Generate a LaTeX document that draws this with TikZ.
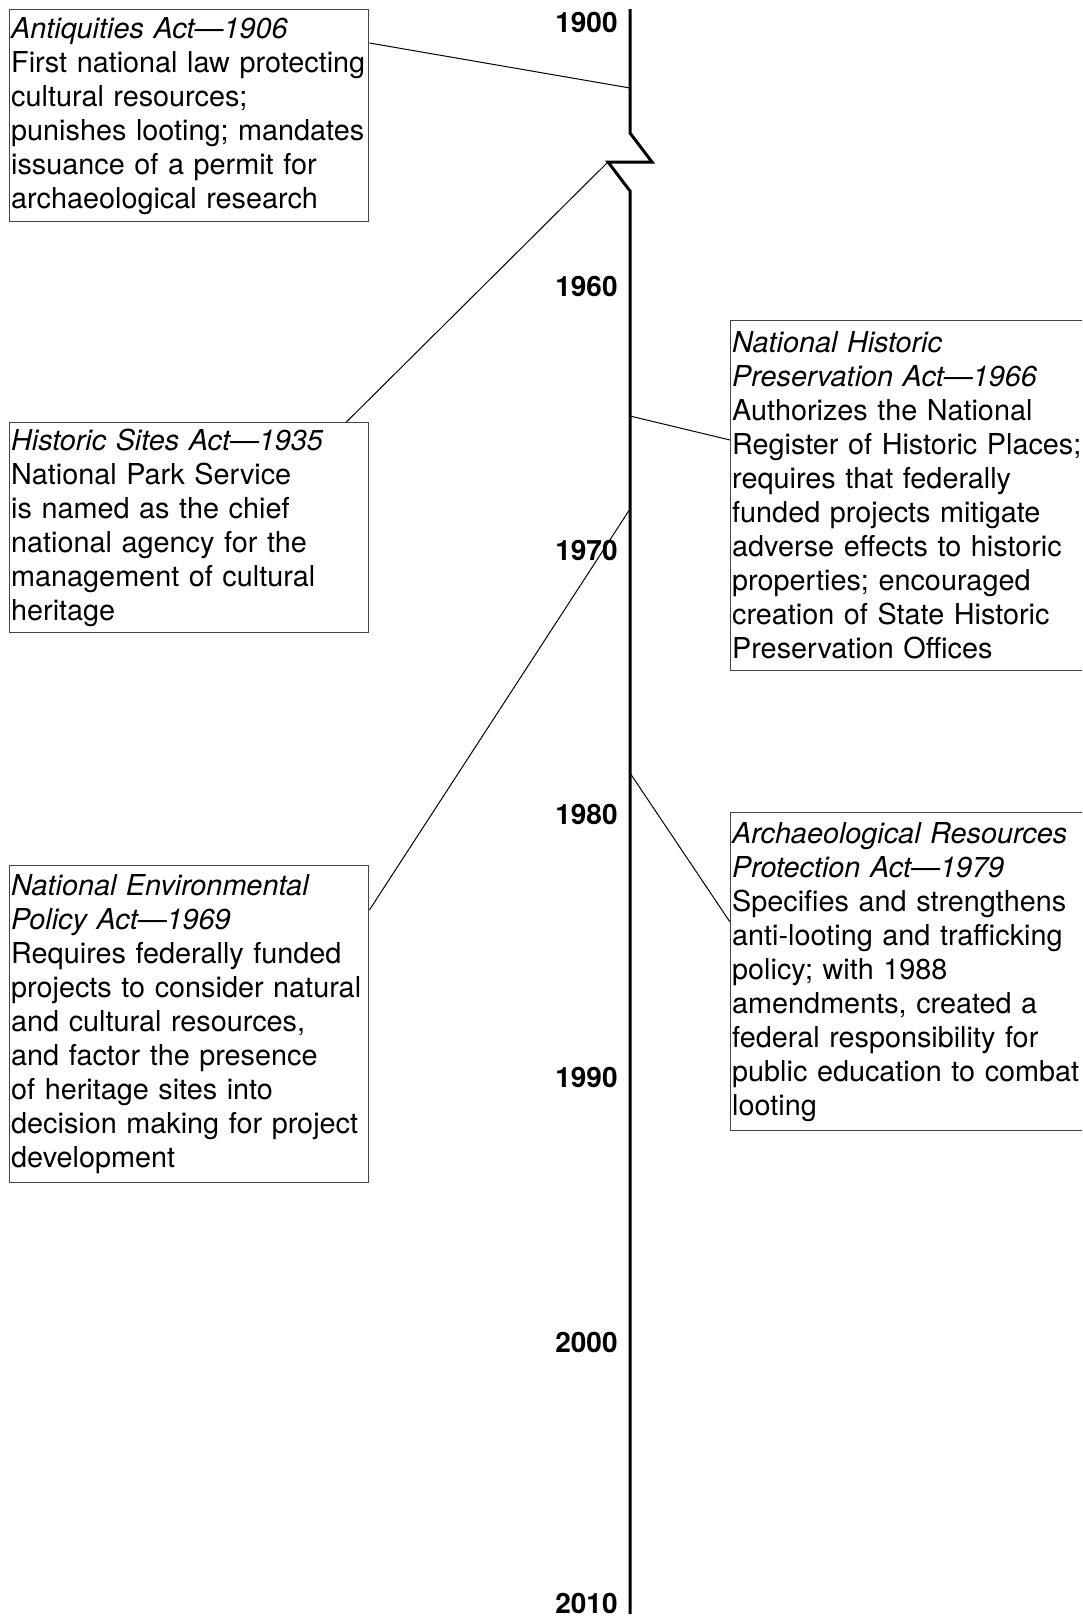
\documentclass[tikz,border=0pt]{standalone}
\usepackage{fontspec}
\setmainfont{TeX Gyre Heros}
\usepackage{xcolor}
\usepackage{tikz}
\usetikzlibrary{calc}
\definecolor{ink}{HTML}{000000}
\definecolor{frame}{HTML}{444444}
\newcommand{\nohyph}{\hyphenpenalty=10000\relax\exhyphenpenalty=10000\relax}
\tikzset{
  axis/.style={draw=ink, line width=1.5pt, line join=miter},
  link/.style={draw=ink, line width=0.5pt},
  act/.style={draw=frame, line width=0.7pt, anchor=north west, align=left,
    inner xsep=0.75pt, inner ysep=0pt,
    font=\fontsize{14.4}{17}\selectfont\nohyph},
  actl/.style={act, text width=178pt},
  actr/.style={act, text width=183pt},
  yr/.style={anchor=east, inner sep=0pt, font=\fontsize{14}{17}\selectfont\bfseries},
}

\begin{document}
\begin{tikzpicture}[x=0.5pt,y=-0.5pt]
  \clip (0,0) rectangle (1082,1617);
  \coordinate (top) at (630,9);
  \coordinate (b1) at (630,133);
  \coordinate (b2) at (652,162);
  \coordinate (b3) at (608,162);
  \coordinate (b4) at (630,191);
  \coordinate (bot) at (630,1614);
  \coordinate (p06) at (630,88);
  \coordinate (p66) at (630,416);
  \coordinate (p69) at (630,509);
  \coordinate (p79) at (630,773);

  % year labels
  \foreach \yr/\ypos in {1900/22,1960/286,1970/550,1980/814,1990/1077,2000/1342,2010/1603}
    \node[yr] (y\yr) at (618,\ypos) {\yr};

  \node[actl, minimum height=106pt] (anti) at (9,9)
    {\textit{Antiquities Act---1906}\\First national law protecting\\cultural resources;\\
     punishes looting; mandates\\issuance of a permit for\\archaeological research};
  \node[actl, minimum height=105pt] (sites) at (9,422)
    {\textit{Historic Sites Act---1935}\\National Park Service\\is named as the chief\\
     national agency for the\\management of cultural\\heritage};
  \node[actl, minimum height=158.5pt] (nepa) at (9,865)
    {\textit{National Environmental}\\\textit{Policy Act---1969}\\Requires federally funded\\
     projects to consider natural\\and cultural resources,\\and factor the presence\\
     of heritage sites into\\decision making for project\\development};
  \node[actr, minimum height=175pt] (nhpa) at (730,320)
    {\textit{National Historic}\\\textit{Preservation Act---1966}\\Authorizes the National\\
     Register of Historic Places;\\requires that federally\\funded projects mitigate\\
     adverse effects to historic\\properties; encouraged\\creation of State Historic\\
     Preservation Offices};
  \node[actr, minimum height=159pt] (arpa) at (730,812)
    {\textit{Archaeological Resources}\\\textit{Protection Act---1979}\\Specifies and strengthens\\
     anti-looting and trafficking\\policy; with 1988\\amendments, created a\\
     federal responsibility for\\public education to combat\\looting};

  % timeline with break
  \draw[axis] (top) -- (b1) -- (b2) -- (b3) -- (b4) -- (bot);

  \draw[link] ($(anti.north east)+(0,34)$) -- (p06);
  \draw[link] ($(sites.north east)+(-23,0)$) -- (b3);
  \draw[link] ($(nepa.north east)+(0,45)$) -- (p69);
  \draw[link] ($(nhpa.north west)+(0,120)$) -- (p66);
  \draw[link] ($(arpa.north west)+(0,110)$) -- (p79);
\end{tikzpicture}
\end{document}
